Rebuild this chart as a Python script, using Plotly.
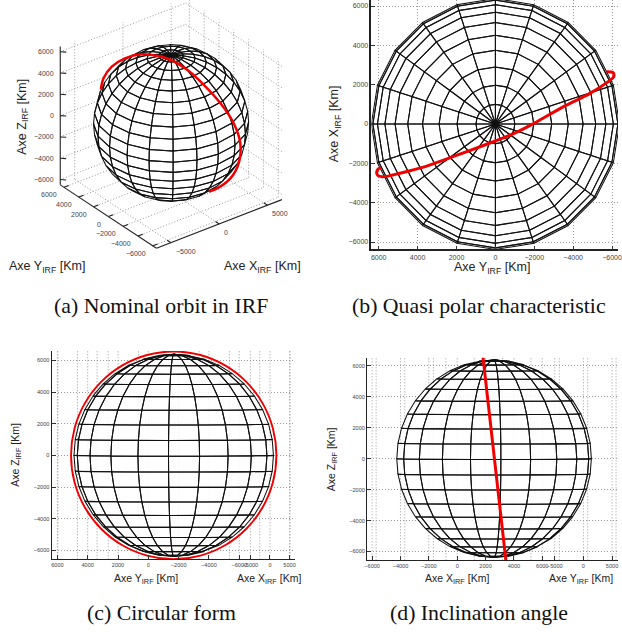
import numpy as np
import plotly.graph_objects as go

W, H = 622, 632
EARTH_R = 6378
sphere_lat = [-90,-81,-72,-63,-54,-45,-36,-27,-18,-9,0,9,18,27,36,45,54,63,72,81,90]
sphere_lon = [0,18,36,54,72,90,108,126,144,162,180,198,216,234,252,270,288,306,324,342,360]
ticks_2k = [-6000,-4000,-2000,0,2000,4000,6000]
ticks_5k = [-5000,0,5000]
BOX = 6500

# Red orbit (km in view plane)
orbit_a_u = [-5772,-5556,-4878,-3794,-2439,-1084,0,1355,2710,4065,5149,5691,5556,4878,3930,3117]
orbit_a_v = [2737,3631,4580,5257,5583,5447,5122,4309,3089,1599,-27,-1653,-3279,-4499,-5230,-5583]
orbit_b_u = [5712,6051,6085,5797,4865,3509,1983,966,0,-1237,-2424,-3610,-4797,-5814,-6068,-6068,-5899]
orbit_b_v = [2661,2610,2407,2153,1559,881,34,-475,-864,-1322,-1746,-2170,-2475,-2678,-2593,-2339,-2204]
orbit_c_u = [6560,6336,5681,4639,3280,1698,0,-1698,-3280,-4639,-5681,-6336,-6560,-6336,-5681,-4639,-3280,-1698,0,1698,3280,4639,5681,6336,6560]
orbit_c_v = [0,1698,3280,4639,5681,6336,6560,6336,5681,4639,3280,1698,0,-1698,-3280,-4639,-5681,-6336,-6560,-6336,-5681,-4639,-3280,-1698,0]
orbit_d_u = [-733,776]
orbit_d_v = [6638,-6616]

def mt(v):
    return str(v).replace("-", "\u2212")

def proj(x, y, z, az, el):
    a, e = np.radians(az), np.radians(el)
    x, y, z = np.asarray(x, float), np.asarray(y, float), np.asarray(z, float)
    return (x*np.cos(a) - y*np.sin(a),
            z*np.cos(e) + np.sin(e)*(x*np.sin(a) + y*np.cos(a)))

def mesh(az, el):
    a, e = np.radians(az), np.radians(el)
    cam = np.array([-np.sin(a)*np.cos(e), -np.cos(a)*np.cos(e), np.sin(e)])
    la = np.radians(sphere_lat); lo = np.radians(sphere_lon)
    P = EARTH_R*np.stack([np.outer(np.cos(la), np.cos(lo)),
                          np.outer(np.cos(la), np.sin(lo)),
                          np.outer(np.sin(la), np.ones_like(lo))], axis=-1)
    us, vs = [], []
    for i in range(len(la)-1):
        for j in range(len(lo)-1):
            mid = 0.25*(P[i,j]+P[i+1,j]+P[i,j+1]+P[i+1,j+1])
            if mid @ cam < 0:
                continue
            q = np.array([P[i,j],P[i+1,j],P[i+1,j+1],P[i,j+1],P[i,j]])
            u, v = proj(q[:,0], q[:,1], q[:,2], az, el)
            us += list(u)+[None]; vs += list(v)+[None]
    return us, vs

def dom(p0, p1, top, bottom):
    return dict(x=[p0/W, p1/W], y=[1-bottom/H, 1-top/H])

fig = go.Figure()
BLACK = "#111"
GRID = "#999999"
DOTS = "1px,2px"
FONT = "Liberation Sans"

def add_sphere(xa, ya, az, el, fill_a):
    t = np.radians(np.array(sphere_lon)*1.0)
    fig.add_trace(go.Scatter(x=0.985*EARTH_R*np.cos(t), y=0.985*EARTH_R*np.sin(t), fill="toself",
                             fillcolor=f"rgba(255,255,255,{fill_a})", mode="none",
                             xaxis=xa, yaxis=ya, hoverinfo="skip", showlegend=False))
    u, v = mesh(az, el)
    fig.add_trace(go.Scatter(x=u, y=v, mode="lines", line=dict(color=BLACK, width=1.05),
                             xaxis=xa, yaxis=ya, hoverinfo="skip", showlegend=False))

def add_red(xa, ya, u, v, w, shape="spline"):
    fig.add_trace(go.Scatter(x=u, y=v, mode="lines", line=dict(color="#f00000", width=w, shape=shape),
                             xaxis=xa, yaxis=ya, cliponaxis=False, hoverinfo="skip", showlegend=False))

def seg(xa, ya, xs, ys, color, width, dash=None):
    fig.add_trace(go.Scatter(x=xs, y=ys, mode="lines", line=dict(color=color, width=width, dash=dash),
                             xaxis=xa, yaxis=ya, hoverinfo="skip", showlegend=False))

# ---------- panel (a): 3D box drawn through projection ----------
AZ_A, EL_A = 37.5, 30
S_A = 0.0123
cx, cy = 170, 123
ax_a = dict(domain=dom(0, 311, 0, 265)["x"], range=[(0-cx)/S_A, (311-cx)/S_A], visible=False, fixedrange=True)
ay_a = dict(domain=dom(0, 311, 0, 265)["y"], range=[(cy-265)/S_A, (cy-0)/S_A], visible=False, fixedrange=True)

gu, gv = [], []
def g3(p, q):
    u, v = proj([p[0], q[0]], [p[1], q[1]], [p[2], q[2]], AZ_A, EL_A)
    gu.extend(list(u)+[None]); gv.extend(list(v)+[None])
L = BOX
for x in ticks_5k:
    g3((x,-L,-L), (x,L,-L)); g3((x,L,-L), (x,L,L))
for y in ticks_2k:
    g3((-L,y,-L), (L,y,-L)); g3((L,y,-L), (L,y,L))
for z in ticks_2k:
    g3((-L,L,z), (L,L,z)); g3((L,L,z), (L,-L,z))
seg("x", "y", gu, gv, GRID, 1, DOTS)
add_sphere("x", "y", AZ_A, EL_A, 0.9)
au, av = [], []
for p, q in [((-L,L,-L),(-L,L,L)), ((-L,L,-L),(-L,-L,-L)), ((-L,-L,-L),(L,-L,-L))]:
    u, v = proj([p[0],q[0]], [p[1],q[1]], [p[2],q[2]], AZ_A, EL_A)
    au += list(u)+[None]; av += list(v)+[None]
for y in ticks_2k:
    u, v = proj([-L,-L+500], [y,y], [-L,-L], AZ_A, EL_A); au += list(u)+[None]; av += list(v)+[None]
for x in ticks_5k:
    u, v = proj([x,x], [-L,-L+500], [-L,-L], AZ_A, EL_A); au += list(u)+[None]; av += list(v)+[None]
for z in ticks_2k:
    u, v = proj([-L,-L+350], [L,L-350], [z,z], AZ_A, EL_A); au += list(u)+[None]; av += list(v)+[None]
seg("x", "y", au, av, "#222", 1.1)
add_red("x", "y", orbit_a_u, orbit_a_v, 2.5)

annots = []
TICKC = "#444"
def tick_note(xref, yref, u, v, text, anchor, xs, ys, size=7):
    annots.append(dict(x=float(u), y=float(v), xref=xref, yref=yref, text=text, showarrow=False,
                       xanchor=anchor, yanchor="middle", xshift=xs, yshift=ys,
                       font=dict(family=FONT, size=size, color=TICKC)))
for z in ticks_2k:
    u, v = proj(-L, L, z, AZ_A, EL_A); tick_note("x", "y", u, v, mt(z), "right", -4, 0)
for y in ticks_2k:
    u, v = proj(-L, y, -L, AZ_A, EL_A); tick_note("x", "y", u, v, mt(y), "right", -5, -7.5)
for x in ticks_5k:
    u, v = proj(x, -L, -L, AZ_A, EL_A); tick_note("x", "y", u, v, mt(x), "left", 3, -8.5)

# ---------- panel (b) ----------
AZ_B, EL_B = 90, 90
PX_B = 59/3/1000
ub0, vb0 = 311+561/3, 372/3
lb, bb = 311+185/3, 748/3
ax_b = dict(domain=dom(lb, 622, 0, bb)["x"], range=[(lb-ub0)/PX_B, (622-ub0)/PX_B])
ay_b = dict(domain=dom(lb, 622, 0, bb)["y"], range=[(vb0-bb)/PX_B, (vb0-0)/PX_B])
add_sphere("x2", "y2", AZ_B, EL_B, 1)
add_red("x2", "y2", orbit_b_u, orbit_b_v, 3)

# ---------- panel (c) ----------
AZ_C, SPH_C = 75.5, 87
LX_C, LY_C = 6480, 6350
PX_C = 47.5/3/1000
uc0, vc0 = 518/3, 316+418/3
lc, rc, tc, bc = 148/3, 885/3, 316+105/3, 316+730/3
ax_c = dict(domain=dom(lc, rc, tc, bc)["x"], range=[(lc-uc0)/PX_C, (rc-uc0)/PX_C])
ay_c = dict(domain=dom(lc, rc, tc, bc)["y"], range=[(vc0-bc)/PX_C, (vc0-tc)/PX_C])
yc_front = [float(proj(-LX_C, y, 0, AZ_C, 0)[0]) for y in ticks_2k]
xc_front = [float(proj(x, -LY_C, 0, AZ_C, 0)[0]) for x in ticks_5k]
yc_back = [float(proj(LX_C, y, 0, AZ_C, 0)[0]) for y in ticks_2k]
xc_back = [float(proj(x, LY_C, 0, AZ_C, 0)[0]) for x in ticks_5k]
vu, vv = [], []
for u in yc_front+xc_front+yc_back+xc_back:
    vu += [u, u, None]; vv += [ay_c["range"][0], ay_c["range"][1], None]
seg("x3", "y3", vu, vv, GRID, 1, DOTS)
add_sphere("x3", "y3", SPH_C, 0.5, 0.85)
add_red("x3", "y3", orbit_c_u, orbit_c_v, 1.9)

# ---------- panel (d) ----------
AZ_D, SPH_D = -22, -14
LX_D, LY_D = 6300, 6440
PX_D = 46.4/3/1000
ud0, vd0 = 311+557/3, 316+428/3
ld, td, bd = 311+172/3, 316+125/3, 316+733/3
ax_d = dict(domain=dom(ld, 622, td, bd)["x"], range=[(ld-ud0)/PX_D, (622-ud0)/PX_D])
ay_d = dict(domain=dom(ld, 622, td, bd)["y"], range=[(vd0-bd)/PX_D, (vd0-td)/PX_D])
xd_front = [float(proj(x, -LY_D, 0, AZ_D, 0)[0]) for x in ticks_2k]
yd_front = [float(proj(LX_D, y, 0, AZ_D, 0)[0]) for y in ticks_5k]
xd_back = [float(proj(x, LY_D, 0, AZ_D, 0)[0]) for x in ticks_2k]
yd_back = [float(proj(-LX_D, y, 0, AZ_D, 0)[0]) for y in ticks_5k]
vu, vv = [], []
for u in xd_front+yd_front+xd_back+yd_back:
    vu += [u, u, None]; vv += [ay_d["range"][0], ay_d["range"][1], None]
seg("x4", "y4", vu, vv, GRID, 1, DOTS)
add_sphere("x4", "y4", SPH_D, 0.5, 0.85)
add_red("x4", "y4", orbit_d_u, orbit_d_v, 3, "linear")

def axis(base, tv, tt, size, grid, ln=1.4):
    base.update(dict(tickmode="array", tickvals=tv, ticktext=tt, ticks="inside", ticklen=4, tickwidth=1,
                     tickcolor="#333", showline=True, linecolor="#222", linewidth=ln, mirror=False,
                     zeroline=False, showgrid=grid, gridcolor=GRID, griddash=DOTS, gridwidth=1,
                     ticklabeloverflow="allow", layer="above traces", fixedrange=True, tickangle=0,
                     tickfont=dict(family=FONT, size=size, color=TICKC)))
    return base

ax_b = axis(ax_b, [-y for y in ticks_2k], [mt(y) for y in ticks_2k], 7, True, 1.6)
ay_b = axis(ay_b, ticks_2k, [mt(t) for t in ticks_2k], 7, True, 1.6)
ax_b["anchor"] = "y2"; ay_b["anchor"] = "x2"
ax_c = axis(ax_c, yc_front+xc_front, [mt(y) for y in ticks_2k]+[mt(x) for x in ticks_5k], 5.6, False)
ay_c = axis(ay_c, ticks_2k, [mt(t) for t in ticks_2k], 5.6, True)
ax_c["anchor"] = "y3"; ay_c["anchor"] = "x3"
ax_d = axis(ax_d, xd_front+yd_front, [mt(x) for x in ticks_2k]+[mt(y) for y in ticks_5k], 5.6, False)
ay_d = axis(ay_d, ticks_2k, [mt(t) for t in ticks_2k], 5.6, True)
ax_d["anchor"] = "y4"; ay_d["anchor"] = "x4"

def text(px, py, s, size, family=FONT, angle=0, color="#222"):
    annots.append(dict(x=px/W, y=1-py/H, xref="paper", yref="paper", text=s, showarrow=False,
                       xanchor="center", yanchor="middle", textangle=angle,
                       font=dict(family=family, size=size, color=color)))

X = "Axe X<sub>IRF</sub> [Km]"; Y = "Axe Y<sub>IRF</sub> [Km]"; Z = "Axe Z<sub>IRF</sub> [Km]"
text(20, 117, Z, 12.5, angle=-90); text(45, 267, Y, 12.5); text(262, 267, X, 12.5)
text(336, 124, X, 12.5, angle=-90); text(495, 268, Y, 12.5)
text(13, 455, Z, 10.5, angle=-90); text(145, 579, Y, 10.5); text(269, 579, X, 10.5)
text(333, 459, Z, 10.5, angle=-90); text(459, 579, X, 10.5); text(585, 579, Y, 10.5)
SERIF = "Liberation Serif"
text(160, 306, "(a) Nominal orbit in IRF", 21.8, SERIF, color="#111")
text(481, 306, "(b) Quasi polar characteristic", 21.8, SERIF, color="#111")
text(160, 613, "(c) Circular form", 21.8, SERIF, color="#111")
text(481, 613, "(d) Inclination angle", 21.8, SERIF, color="#111")

fig.update_layout(width=W, height=H, margin=dict(l=0, r=0, t=0, b=0), paper_bgcolor="white",
                  plot_bgcolor="white", showlegend=False, annotations=annots,
                  xaxis=ax_a, yaxis=ay_a, xaxis2=ax_b, yaxis2=ay_b,
                  xaxis3=ax_c, yaxis3=ay_c, xaxis4=ax_d, yaxis4=ay_d)
fig.write_html("out.html", post_script="document.body.style.margin='0';",
               config=dict(displayModeBar=False))
